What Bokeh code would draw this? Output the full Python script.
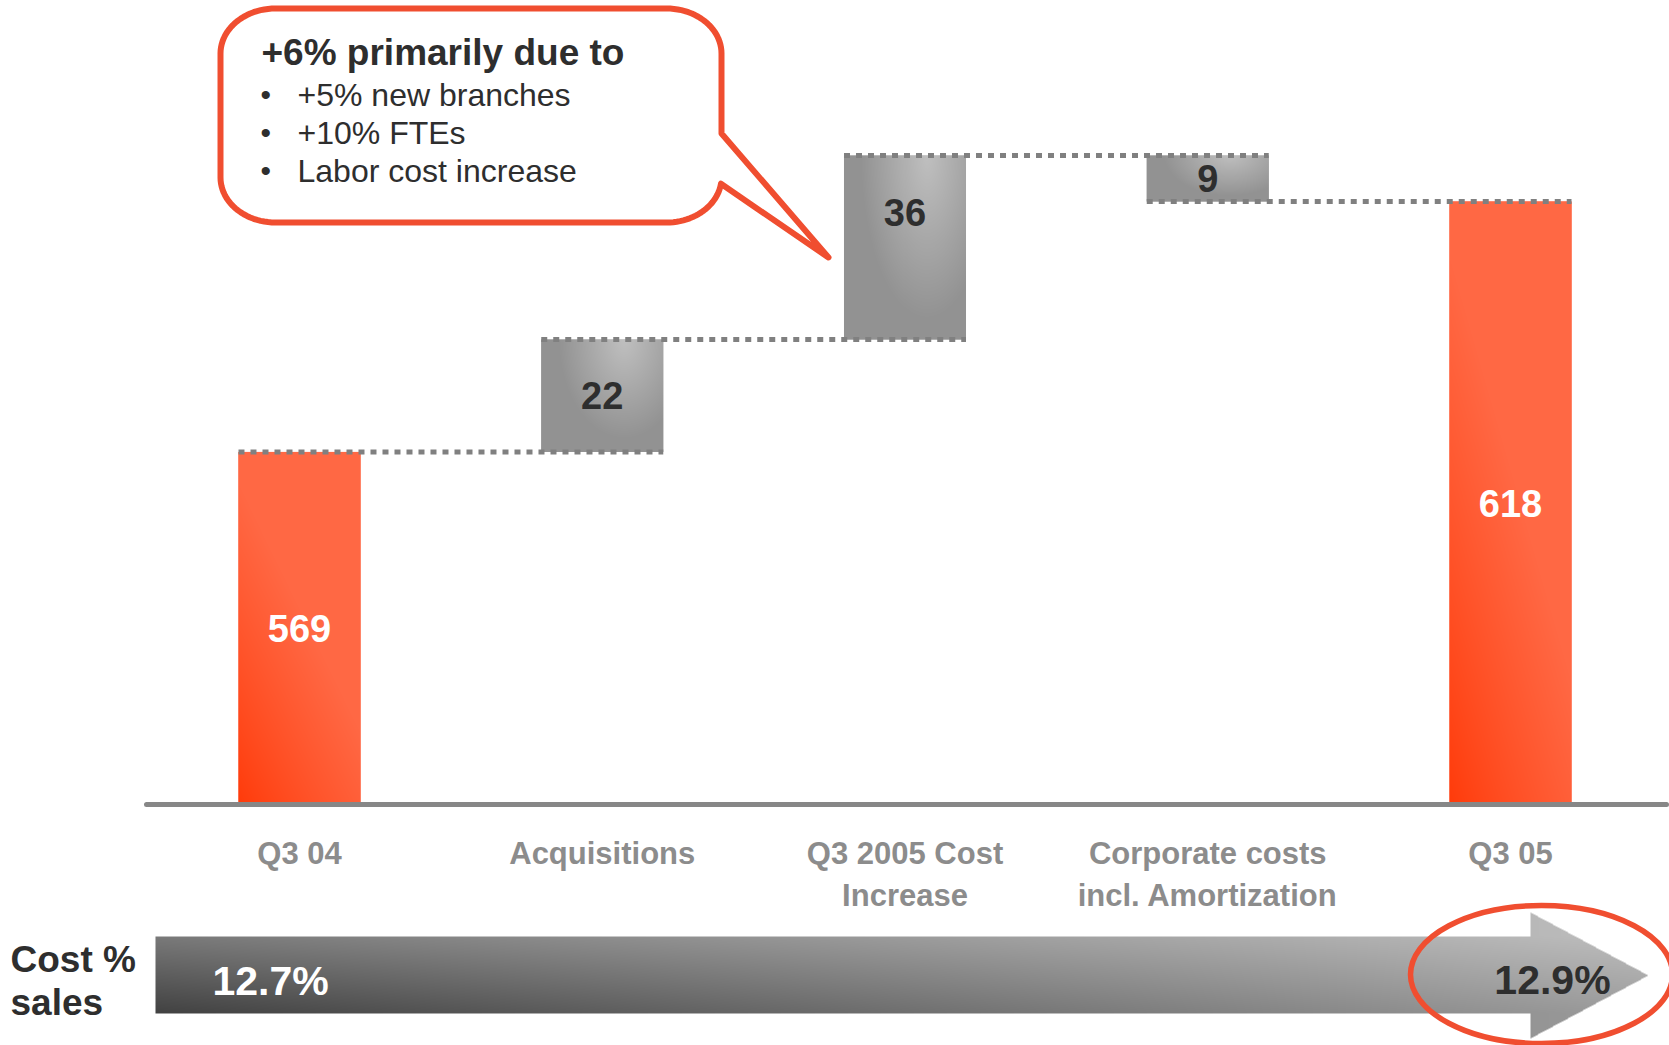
import numpy as np
from bokeh.plotting import figure
from bokeh.models import Range1d
from bokeh.core.properties import value
from bokeh.embed import file_html
from bokeh.resources import INLINE

# ---------------- data ----------------
categories = ["Q3 04", "Acquisitions", "Q3 2005 Cost\nIncrease",
              "Corporate costs\nincl. Amortization", "Q3 05"]
amounts = [569, 22, 36, -9, 618]
bar_kinds = ["total", "delta", "delta", "delta", "total"]
value_labels = ["569", "22", "36", "9", "618"]
axis_floor = 500
ratio_caption = ["Cost %", "sales"]
ratio_values = ["12.7%", "12.9%"]
callout_title = "+6% primarily due to"
callout_bullets = ["+5% new branches", "+10% FTEs", "Labor cost increase"]

# ---------------- layout helpers ----------------
W, H = 1669, 1045
X0, XSTEP = 299.0, 302.75      # pixel centre of first category, pixel step
Y0, YSCALE = 804.0, 5.11       # pixel of axis floor, pixels per unit


def px2x(px):
    return (px - X0) / XSTEP


def px2y(py):
    return axis_floor + (Y0 - py) / YSCALE


FONT = value("Liberation Sans")
RED = "#f04e30"
DARK = "#2e2e2e"

p = figure(width=W, height=H,
           x_range=Range1d(px2x(0), px2x(W)),
           y_range=Range1d(px2y(H), px2y(0)),
           output_backend="svg", toolbar_location=None,
           x_axis_location=None, y_axis_location=None,
           min_border=0, outline_line_color=None,
           background_fill_color="white", border_fill_color="white")
p.grid.visible = False

# ---------------- waterfall geometry ----------------
bottoms, tops, levels = [], [], []
running = 0
for a, k in zip(amounts, bar_kinds):
    if k == "total":
        b, t = axis_floor, a
        running = a
    else:
        b, t = (running, running + a) if a >= 0 else (running + a, running)
        running += a
    bottoms.append(b)
    tops.append(t)
    levels.append(running)
xs = list(range(len(categories)))
BW = 0.403

fills = ["#ff4a25" if k == "total" else "#a3a3a3" for k in bar_kinds]
p.vbar(x=xs, bottom=bottoms, top=tops, width=BW, fill_color=fills, line_color=None)


def pack(r, g, b, a=None):
    h, w = r.shape
    img = np.empty((h, w), dtype=np.uint32)
    v = img.view(dtype=np.uint8).reshape((h, w, 4))
    v[..., 0] = np.clip(r, 0, 255).astype(np.uint8)
    v[..., 1] = np.clip(g, 0, 255).astype(np.uint8)
    v[..., 2] = np.clip(b, 0, 255).astype(np.uint8)
    v[..., 3] = 255 if a is None else a
    return img


def bar_gradient(wpx, hpx, kind):
    xf = np.linspace(0, 1, wpx)[None, :] * np.ones((hpx, 1))
    yf = np.linspace(0, 1, hpx)[:, None] * np.ones((1, wpx))   # row 0 = bottom
    if kind == "total":
        c0, c1 = np.array([255, 51, 0]), np.array([255, 104, 68])
        t = np.clip(0.7 * xf + 1.0 * yf + 0.1, 0, 1) ** 0.8
    else:
        c0, c1 = np.array([146, 146, 146]), np.array([192, 192, 192])
        t = np.clip(1 - np.sqrt(((xf - 0.68) / 0.55) ** 2 + ((yf - 1.0) / 0.9) ** 2), 0, 1)
    return pack(c0[0] + (c1[0] - c0[0]) * t, c0[1] + (c1[1] - c0[1]) * t,
                c0[2] + (c1[2] - c0[2]) * t)


for i in xs:
    wpx = int(round(BW * XSTEP))
    hpx = max(2, int(round((tops[i] - bottoms[i]) * YSCALE)))
    p.image_rgba(image=[bar_gradient(wpx, hpx, bar_kinds[i])],
                 x=xs[i] - BW / 2, y=bottoms[i], dw=BW, dh=tops[i] - bottoms[i])

# connectors between bars
n = len(xs)
p.segment(x0=[xs[i] - BW / 2 for i in range(n - 1)], y0=levels[:-1],
          x1=[xs[i + 1] + BW / 2 for i in range(n - 1)], y1=levels[:-1],
          line_color="#808080", line_width=5, line_dash="6 6")

# baseline
p.segment(x0=[px2x(146)], y0=[axis_floor], x1=[px2x(1666)], y1=[axis_floor],
          line_color="#878787", line_width=5, line_cap="round")

# value labels
lab_y, lab_c = [], []
for b, t, k in zip(bottoms, tops, bar_kinds):
    if k == "delta" and t - b > 30:
        lab_y.append(t - 11.2)
    else:
        lab_y.append((b + t) / 2)
    lab_c.append("white" if k == "total" else DARK)
p.text(x=xs, y=lab_y, text=value_labels, text_color=lab_c, text_font=FONT,
       text_font_style="bold", text_font_size="38px",
       text_align="center", text_baseline="middle")

# category labels
line1 = [c.split("\n")[0] for c in categories]
p.text(x=xs, y=[px2y(853)] * n, text=line1, text_color="#8c8c8c", text_font=FONT,
       text_font_style="bold", text_font_size="31px",
       text_align="center", text_baseline="middle")
x2 = [x for x, c in zip(xs, categories) if "\n" in c]
t2 = [c.split("\n")[1] for c in categories if "\n" in c]
p.text(x=x2, y=[px2y(895)] * len(x2), text=t2, text_color="#8c8c8c", text_font=FONT,
       text_font_style="bold", text_font_size="31px",
       text_align="center", text_baseline="middle")

# ---------------- bottom arrow (cost % sales) ----------------
AX0, AX1, AHX = 155, 1648, 1530
BT, BB, HT, HB, AYC = 936, 1013, 912, 1038, 975
aw, ah = AX1 - AX0, HB - HT
gx = np.arange(aw)[None, :] + AX0 + 0.5
gy = np.arange(ah)[:, None] + HT + 0.5
GX = gx * np.ones((ah, 1))
GY = gy * np.ones((1, aw))
u = (GX - AX0) / (AX1 - AX0)
vv = np.clip((GY - BT) / (BB - BT), 0, 1)
topc = 122 + (190 - 122) * u
botc = 66 + (156 - 66) * u
col = topc * (1 - vv) + botc * vv
inside_body = (GX <= AHX) & (GY >= BT) & (GY <= BB)
half = (AYC - HT) * (AX1 - GX) / (AX1 - AHX)
inside_head = (GX >= AHX) & (np.abs(GY - AYC) <= half)
alpha = np.where(inside_body | inside_head, 255, 0).astype(np.uint8)
arrow_img = np.flipud(pack(col, col, col, alpha))
p.image_rgba(image=[arrow_img], x=px2x(AX0), y=px2y(HB),
             dw=aw / XSTEP, dh=ah / YSCALE)

p.text(x=[px2x(212)], y=[px2y(980)], text=[ratio_values[0]], text_color="white",
       text_font=FONT, text_font_style="bold", text_font_size="41px",
       text_align="left", text_baseline="middle")
p.text(x=[px2x(1552)], y=[px2y(979)], text=[ratio_values[1]], text_color=DARK,
       text_font=FONT, text_font_style="bold", text_font_size="41px",
       text_align="center", text_baseline="middle")
p.text(x=[px2x(10)] * 2, y=[px2y(959), px2y(1002)], text=ratio_caption, text_color=DARK,
       text_font=FONT, text_font_style="bold", text_font_size="37px",
       text_align="left", text_baseline="middle")
p.ellipse(x=[px2x(1541)], y=[px2y(974)], width=262 / XSTEP, height=138 / YSCALE,
          fill_color=None, line_color=RED, line_width=5.5)

# ---------------- callout bubble ----------------
L, R, T, B = 220, 721, 8, 222
rx, ry = 55, 45


def arc(cx, cy, a0, a1, k=24):
    a = np.radians(np.linspace(a0, a1, k))
    return list(cx + rx * np.cos(a)), list(cy + ry * np.sin(a))


bx, by = [], []
for (cx, cy, a0, a1) in [(L + rx, T + ry, 180, 270), (R - rx, T + ry, 270, 360)]:
    ax_, ay_ = arc(cx, cy, a0, a1)
    bx += ax_
    by += ay_
bx += [R, 828]
by += [133, 257]
ax_, ay_ = arc(R - rx, B - ry, 8, 90)
bx += ax_
by += ay_
ax_, ay_ = arc(L + rx, B - ry, 90, 180)
bx += ax_
by += ay_
p.patch(x=[px2x(v) for v in bx], y=[px2y(v) for v in by],
        fill_color="white", line_color=RED, line_width=6, line_join="round")

p.text(x=[px2x(261)], y=[px2y(52)], text=[callout_title], text_color=DARK,
       text_font=FONT, text_font_style="bold", text_font_size="37px",
       text_align="left", text_baseline="middle")
bul_y = [px2y(94), px2y(132), px2y(170)]
p.text(x=[px2x(260)] * 3, y=bul_y, text=["•"] * 3, text_color=DARK,
       text_font=FONT, text_font_size="30px", text_align="left", text_baseline="middle")
p.text(x=[px2x(297)] * 3, y=bul_y, text=callout_bullets, text_color=DARK,
       text_font=FONT, text_font_size="32px", text_align="left", text_baseline="middle")

open("out.html", "w").write(file_html(p, INLINE))
